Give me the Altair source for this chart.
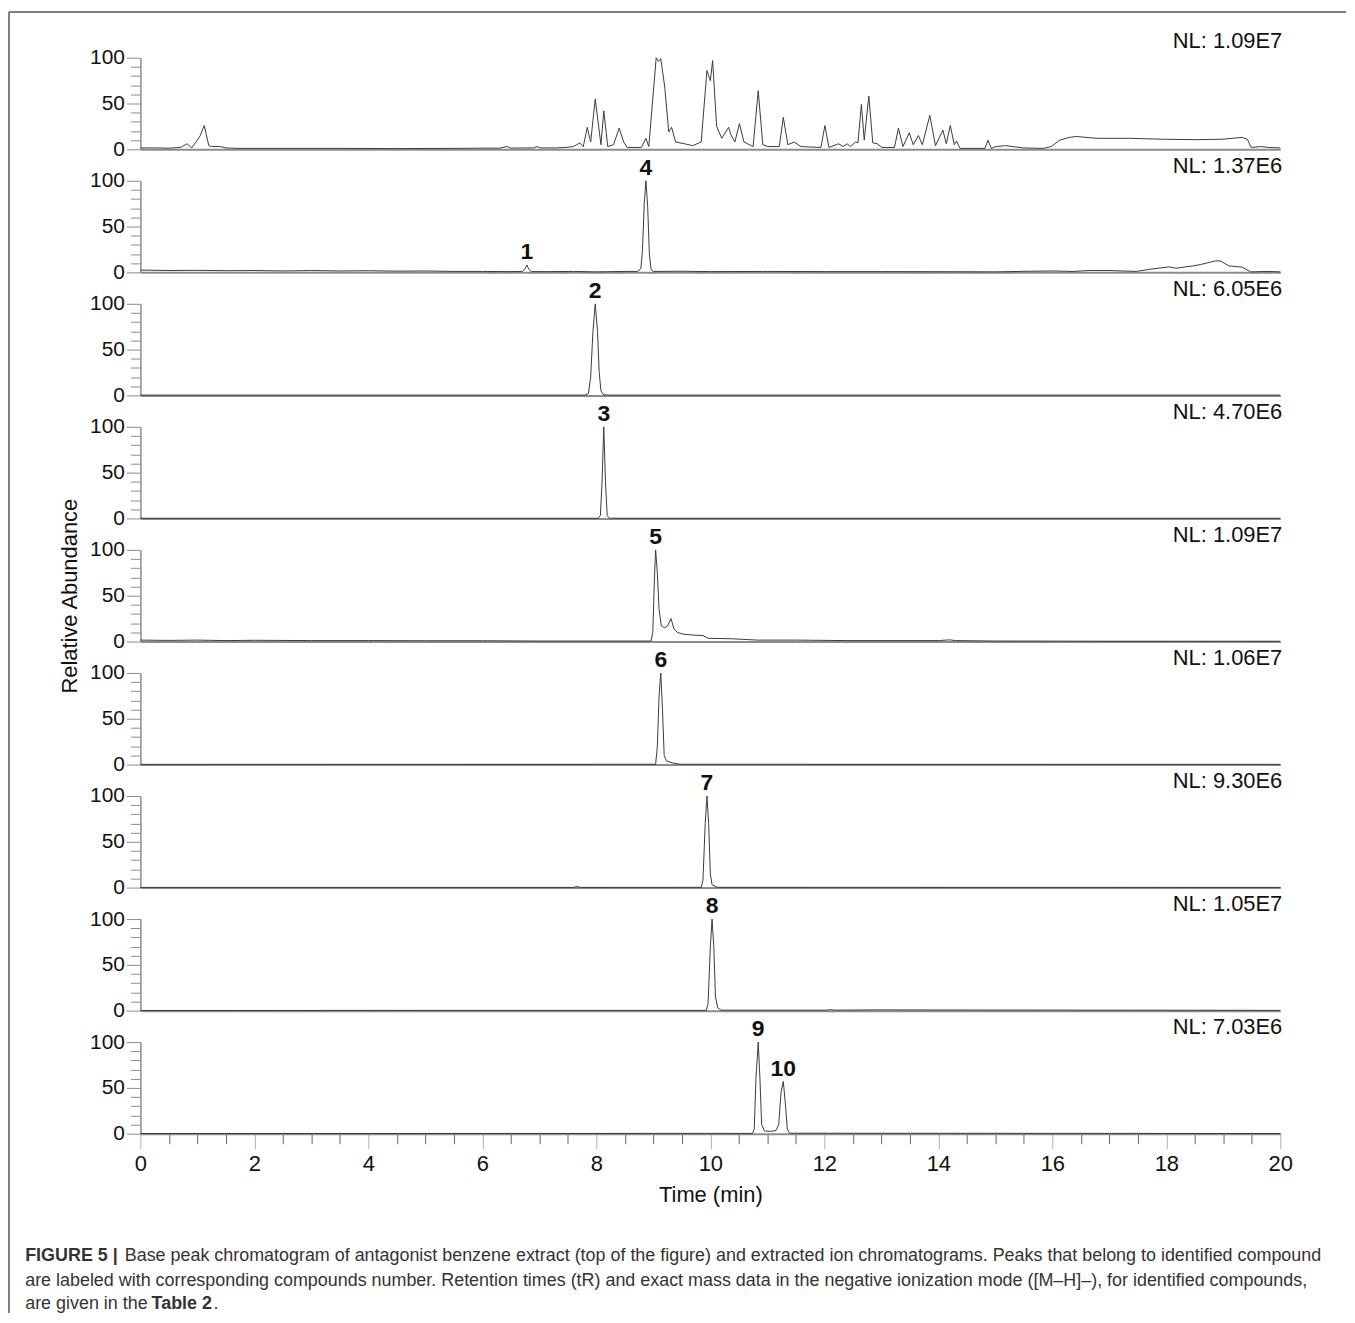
import altair as alt
import pandas as pd

FONT = "Liberation Sans"
W, H, GAP = 1145, 92, 31.6
LINE_COLOR = "#3a3a3a"
AXIS_COLOR = "#8c8c8c"

# ---------------- data ----------------
# Panel 1: base peak chromatogram
bpc_t = [0.0, 0.3, 0.5, 0.7, 0.82, 0.9, 1.0, 1.05, 1.12, 1.2, 1.25, 1.4, 1.5, 1.7, 2.5, 3.5, 4.5, 5.5,
         6.0, 6.3, 6.43, 6.5, 6.9, 6.96, 7.02, 7.3, 7.45, 7.6, 7.71, 7.77, 7.84, 7.90, 7.98, 8.08,
         8.13, 8.20, 8.30, 8.40, 8.48, 8.54, 8.79, 8.87, 8.92, 9.05, 9.09, 9.13, 9.20, 9.27, 9.32,
         9.39, 9.55, 9.69, 9.84, 9.94, 10.00, 10.04, 10.11, 10.20, 10.32, 10.36, 10.43, 10.51,
         10.59, 10.75, 10.84, 10.92, 11.01, 11.21, 11.28, 11.36, 11.47, 11.59, 11.94, 12.01, 12.08,
         12.25, 12.33, 12.40, 12.46, 12.55, 12.59, 12.65, 12.70, 12.78, 12.85, 12.93, 13.01, 13.23,
         13.30, 13.38, 13.49, 13.56, 13.65, 13.72, 13.85, 13.95, 14.08, 14.14, 14.21, 14.28, 14.32,
         14.38, 14.82, 14.87, 14.93, 15.01, 15.18, 15.49, 15.84, 15.98, 16.13, 16.30, 16.42, 16.77,
         17.35, 17.93, 18.52, 18.98, 19.33, 19.42, 19.49, 19.67, 19.79, 20.0]
bpc_v = [1.5, 1.5, 1.2, 2, 6, 1.5, 10, 15, 26, 4, 3, 3, 1.5, 1, 1, 1, 0.8, 1,
         1.2, 1.2, 3, 1.3, 1.5, 3, 1.5, 1.5, 2, 3, 7, 3, 24, 8, 55, 5,
         42, 3, 5, 23, 8, 2, 2, 12, 3, 100, 96, 99, 68, 19, 24,
         8, 6, 4, 8, 86, 75, 97, 25, 12, 24, 16, 8, 28,
         8, 3, 64, 5, 3, 3, 35, 5, 8, 3, 2, 26, 2,
         6, 3, 6, 3, 8, 7, 49, 10, 58, 7, 6, 2, 2,
         23, 3, 18, 5, 15, 5, 37, 4, 21, 6, 26, 5, 9,
         1, 1, 10, 1, 3, 4, 1.5, 1, 3, 10, 13, 14, 12,
         12, 11, 10.5, 11, 13, 11, 2, 3, 2, 1.5]

# Panel 2: compounds 1 and 4
eic14_t = [0.0, 0.5, 1.0, 1.5, 2.0, 2.5, 3.0, 3.5, 4.0, 4.5, 5.0, 5.5, 6.0, 6.5, 6.70, 6.75, 6.78,
           6.82, 6.86, 7.2, 7.6, 8.0, 8.5, 8.72, 8.78, 8.81, 8.84, 8.87, 8.90, 8.93, 8.96, 9.0,
           9.5, 10.0, 11.0, 12.0, 13.0, 14.0, 15.0, 15.6, 16.0, 16.36, 16.65, 17.0, 17.47, 17.67,
           18.05, 18.17, 18.46, 18.6, 18.86, 18.95, 19.1, 19.33, 19.48, 19.8, 20.0]
eic14_v = [2.5, 2, 2.2, 1.8, 2, 1.5, 2, 1.5, 1.8, 1.3, 1.5, 1, 1, 0.8, 1, 4, 8,
           3, 0.8, 0.8, 1, 0.5, 1, 1, 4, 25, 75, 100, 72, 20, 3, 1,
           1.2, 0.8, 1, 0.8, 0.8, 0.7, 0.5, 1.2, 1.5, 1, 2, 2, 1, 3,
           6, 4.5, 7, 8.5, 12.5, 12.5, 7, 5.7, 0.5, 1, 0.5]

# Panel 3: compound 2
eic2_t = [0.0, 7.80, 7.86, 7.90, 7.94, 7.98, 8.02, 8.05, 8.08, 8.12, 8.2, 20.0]
eic2_v = [0.3, 0.3, 2, 20, 70, 100, 70, 25, 5, 1, 0.3, 0.3]

# Panel 4: compound 3
eic3_t = [0.0, 8.03, 8.07, 8.10, 8.13, 8.16, 8.19, 8.23, 20.0]
eic3_v = [0.2, 0.2, 3, 40, 100, 40, 3, 0.2, 0.2]

# Panel 5: compound 5
eic5_t = [0.0, 0.5, 1.0, 1.5, 2.0, 3.0, 4.0, 5.0, 6.0, 7.0, 8.0, 8.96, 8.99, 9.02, 9.04, 9.07,
          9.10, 9.14, 9.20, 9.25, 9.31, 9.36, 9.42, 9.52, 9.70, 9.87, 9.96, 10.37, 10.83, 11.5,
          12.4, 13.0, 14.0, 14.2, 14.3, 15.0, 17.0, 20.0]
eic5_v = [1.5, 1.2, 1.5, 1, 1.3, 1, 1, 0.8, 0.8, 0.5, 0.5, 0.5, 10, 70, 100, 75,
          35, 17, 15, 17, 25, 14, 10, 8, 7, 6.5, 3.5, 3, 1.5, 1.5,
          1, 1, 1, 1.8, 1, 0.5, 0.3, 0.3]

# Panel 6: compound 6
eic6_t = [0.0, 9.04, 9.07, 9.10, 9.13, 9.16, 9.19, 9.23, 9.35, 9.48, 20.0]
eic6_v = [0.2, 0.3, 20, 75, 100, 60, 10, 4, 1.5, 0.3, 0.2]

# Panel 7: compound 7
eic7_t = [0.0, 7.6, 7.66, 7.72, 9.84, 9.87, 9.91, 9.94, 9.97, 10.0, 10.03, 10.08, 10.13, 20.0]
eic7_v = [0.2, 0.2, 1.2, 0.2, 0.3, 8, 70, 100, 70, 15, 3, 1.5, 0.3, 0.2]

# Panel 8: compound 8
eic8_t = [0.0, 9.93, 9.96, 10.00, 10.03, 10.06, 10.09, 10.13, 10.19, 11.3, 12.05, 12.11, 12.17,
          12.84, 20.0]
eic8_v = [0.2, 0.3, 8, 70, 100, 70, 15, 3, 0.5, 0.5, 0.5, 1.2, 0.5, 0.8, 0.3]

# Panel 9: compounds 9 and 10
eic910_t = [0.0, 10.74, 10.77, 10.80, 10.84, 10.87, 10.90, 10.95, 11.05, 11.15, 11.20, 11.24,
            11.28, 11.32, 11.35, 11.39, 20.0]
eic910_v = [0.2, 0.3, 5, 60, 100, 60, 10, 3, 2.5, 3.5, 10, 45, 57, 30, 5, 0.5, 0.2]

nl_labels = ["NL: 1.09E7", "NL: 1.37E6", "NL: 6.05E6", "NL: 4.70E6", "NL: 1.09E7",
             "NL: 1.06E7", "NL: 9.30E6", "NL: 1.05E7", "NL: 7.03E6"]

peak_panel = [1, 1, 2, 3, 4, 5, 6, 7, 8, 8]
peak_names = ["1", "4", "2", "3", "5", "6", "7", "8", "9", "10"]
peak_t = [6.78, 8.87, 7.98, 8.13, 9.04, 9.13, 9.94, 10.03, 10.84, 11.28]
peak_v = [8, 100, 100, 100, 100, 100, 100, 100, 100, 57]

y_ticks = [0, 10, 20, 30, 40, 50, 60, 70, 80, 90, 100]
x_ticks = [0, 0.5, 1, 1.5, 2, 2.5, 3, 3.5, 4, 4.5, 5, 5.5, 6, 6.5, 7, 7.5, 8, 8.5, 9, 9.5, 10,
           10.5, 11, 11.5, 12, 12.5, 13, 13.5, 14, 14.5, 15, 15.5, 16, 16.5, 17, 17.5, 18, 18.5,
           19, 19.5, 20]

caption_bold_1 = "FIGURE 5 |"
caption_line_1 = ("Base peak chromatogram of antagonist benzene extract (top of the figure) and "
                  "extracted ion chromatograms. Peaks that belong to identified compound")
caption_line_2 = ("are labeled with corresponding compounds number. Retention times (tR) and exact "
                  "mass data in the negative ionization mode ([M\u2013H]\u2013), for identified compounds,")
caption_line_3 = "are given in the"
caption_bold_3 = "Table 2"
caption_end_3 = "."

traces = [(bpc_t, bpc_v), (eic14_t, eic14_v), (eic2_t, eic2_v), (eic3_t, eic3_v),
          (eic5_t, eic5_v), (eic6_t, eic6_v), (eic7_t, eic7_v), (eic8_t, eic8_v),
          (eic910_t, eic910_v)]

# ---------------- chart ----------------
xs = alt.Scale(domain=[0, 20], nice=False, zero=False)
ys = alt.Scale(domain=[0, 100], nice=False)


def y_axis(title=None):
    kw = dict(
        values=y_ticks,
        labelExpr="datum.value % 50 === 0 ? format(datum.value, 'd') : ''",
        tickSize={"condition": {"test": "datum.value % 50 === 0", "value": 14}, "value": 10},
        tickColor=AXIS_COLOR, tickWidth=1,
        domainColor=AXIS_COLOR, domainWidth=1.5,
        labelFontSize=21, labelPadding=2, labelOverlap=False, labelFlush=False,
        labelColor="#111", grid=False,
    )
    if title:
        kw.update(title=title, titleFontSize=22, titleFontWeight="normal", titlePadding=8,
                  titleColor="#111")
    else:
        kw.update(title=None)
    return alt.Axis(**kw)


def x_axis(last):
    if not last:
        return alt.Axis(labels=False, ticks=False, domainColor=AXIS_COLOR, domainWidth=2,
                        title=None, grid=False)
    return alt.Axis(
        values=x_ticks,
        labelExpr="datum.value % 2 === 0 ? format(datum.value, 'd') : ''",
        tickSize={"condition": {"test": "datum.value % 2 === 0", "value": 15}, "value": 10},
        tickColor={"condition": {"test": "datum.value % 2 === 0", "value": "#b0b0b0"},
                   "value": "#666666"},
        tickWidth=1, domainColor=AXIS_COLOR, domainWidth=2,
        labelFontSize=22, labelPadding=5, labelOverlap=False, labelFlush=False,
        labelColor="#111", grid=False,
        title="Time (min)", titleFontSize=22, titleFontWeight="normal", titlePadding=10,
        titleColor="#111",
    )


def text_layer(txt, x, y, size=18, bold=False, color="#333", align="left"):
    return alt.Chart(pd.DataFrame({"s": [txt]})).mark_text(
        align=align, baseline="alphabetic", font=FONT, fontSize=size,
        fontWeight="bold" if bold else "normal", color=color,
    ).encode(x=alt.value(x), y=alt.value(y), text="s:N")


panels = []
n = len(traces)
for i, (tt, vv) in enumerate(traces):
    last = i == n - 1
    xa = x_axis(last)
    ya = y_axis("Relative Abundance" if i == 4 else None)
    df = pd.DataFrame({"t": tt, "v": vv})
    line = alt.Chart(df).mark_line(color=LINE_COLOR, strokeWidth=1).encode(
        x=alt.X("t:Q", scale=xs, axis=xa),
        y=alt.Y("v:Q", scale=ys, axis=ya),
    )
    nl_y = -10 if i == 0 else -8
    layers = [line, text_layer(nl_labels[i], W + 2, nl_y, size=22, color="#111", align="right")]

    rows = [(nm, pt, pv) for p, nm, pt, pv in zip(peak_panel, peak_names, peak_t, peak_v) if p == i]
    if rows:
        pdf = pd.DataFrame(rows, columns=["n", "t", "v"])
        layers.append(
            alt.Chart(pdf).mark_text(font=FONT, fontSize=23, fontWeight="bold",
                                     baseline="alphabetic", dy=-6, color="#111").encode(
                x=alt.X("t:Q", scale=xs, axis=xa),
                y=alt.Y("v:Q", scale=ys, axis=ya),
                text="n:N",
            )
        )

    if i == 0:
        frame = alt.Chart(pd.DataFrame({"k": [0]})).mark_rule(color="#555", strokeWidth=1.5)
        layers.append(frame.encode(x=alt.value(-132), x2=alt.value(1211), y=alt.value(-46)))
        layers.append(frame.encode(x=alt.value(-132), y=alt.value(-46), y2=alt.value(1261)))

    if last:
        layers += [
            text_layer(caption_bold_1, -115.75, 219.5, bold=True),
            text_layer(caption_line_1, -15.75, 219.5),
            text_layer(caption_line_2, -115.75, 244.5),
            text_layer(caption_line_3, -115.75, 268.5),
            text_layer(caption_bold_3, 11.25, 268.5, bold=True),
            text_layer(caption_end_3, 73.5, 268.5),
        ]

    panels.append(alt.layer(*layers).properties(width=W, height=H))

chart = (
    alt.vconcat(*panels, spacing=GAP, bounds="flush")
    .properties(padding=0)
    .configure_view(stroke=None)
    .configure_axis(labelFont=FONT, titleFont=FONT)
)

chart.save("out.html", embed_options={"renderer": "svg", "actions": False})
